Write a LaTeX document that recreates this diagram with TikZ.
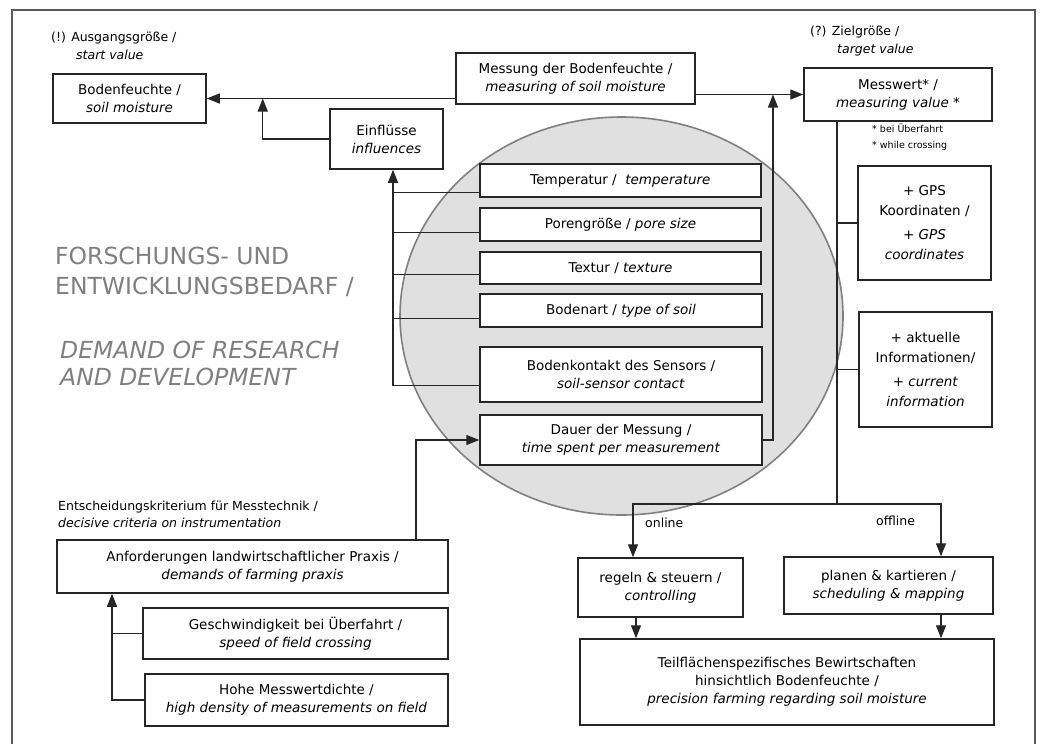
\documentclass[tikz,border=0pt]{standalone}
\usepackage{fontspec}
\setmainfont{DejaVu Sans}
\usetikzlibrary{arrows.meta,calc}
\begin{document}
\begin{tikzpicture}[x=1pt,y=-1pt,
  box/.style={draw=black!85, line width=1.5pt, fill=white, inner sep=0pt, align=center,
    font=\fontsize{13.5}{18}\selectfont, text=black},
  conn/.style={line width=1.4pt, draw=black!85},
  arr/.style={conn, -{Triangle[length=13pt,width=10pt]}},
  lbl/.style={inner sep=0pt, align=left, anchor=west, font=\fontsize{12.5}{18}\selectfont, text=black},
  small/.style={inner sep=0pt, align=left, anchor=west, font=\fontsize{9.5}{16}\selectfont, text=black},
  title/.style={inner sep=0pt, align=left, anchor=west, font=\fontsize{23.5}{30}\selectfont, text=black!50},
  frame/.style={draw=black!65, line width=2pt},
  bubble/.style={draw=black!50, line width=1.6pt, fill=black!12}
]
\useasboundingbox (0,0) rectangle (1044,744);
\fill[white] (0,0) rectangle (1044,744);
\draw[frame] (12,744) -- (12,10) -- (1035,10) -- (1035,744);

% ellipse
\draw[bubble] (621.5,316) ellipse [x radius=221.5, y radius=199];

% free labels
\node[lbl] (start) at (51,46) {(!) Ausgangsgröße /\\\hspace*{25pt}\textit{start value}};
\node[lbl] (target) at (810,41) {(?) Zielgröße /\\\hspace*{27pt}\textit{target value}};
\node[small] (cross) at (872,137) {* bei Überfahrt\\* while crossing};
\node[title] (tde) at (55,272) {FORSCHUNGS- UND\\ENTWICKLUNGSBEDARF /};
\node[title, font=\fontsize{23.5}{27}\selectfont\itshape] (ten) at (60,363.5) {DEMAND OF RESEARCH\\AND DEVELOPMENT};
\node[lbl, font=\fontsize{12.5}{17}\selectfont] (crit) at (58,514.5) {Entscheidungskriterium für Messtechnik /\\\textit{decisive criteria on instrumentation}};
\node[lbl] (online) at (645,523) {online};
\node[lbl] (offline) at (876,521) {offline};

% boxes
\node[box, minimum width=153pt, minimum height=49pt] (bf) at (129.5,98.5) {Bodenfeuchte /\\\textit{soil moisture}};
\node[box, minimum width=239pt, minimum height=51pt] (mess) at (575.5,78.5) {Messung der Bodenfeuchte /\\\textit{measuring of soil moisture}};
\node[box, minimum width=188pt, minimum height=53pt] (mw) at (898,94.5) {Messwert* /\\\textit{measuring value *}};
\node[box, minimum width=113pt, minimum height=60pt] (ein) at (386.5,139) {Einflüsse\\\textit{influences}};

\node[box, minimum width=281pt, minimum height=33pt] (temp) at (620.5,180.5) {Temperatur /\ \ \textit{temperature}};
\node[box, minimum width=281pt, minimum height=33pt] (pore) at (620.5,224.5) {Porengröße /\ \textit{pore size}};
\node[box, minimum width=281pt, minimum height=32pt] (tex) at (620.5,268) {Textur /\ \textit{texture}};
\node[box, minimum width=282pt, minimum height=33pt] (bart) at (621,310.5) {Bodenart /\ \textit{type of soil}};
\node[box, minimum width=282pt, minimum height=55pt] (kont) at (621,374.5) {Bodenkontakt des Sensors /\\\textit{soil-sensor contact}};
\node[box, minimum width=282pt, minimum height=50pt] (dauer) at (621,440) {Dauer der Messung /\\\textit{time spent per measurement}};

\node[box, minimum width=133pt, minimum height=114pt, font=\fontsize{13.5}{20}\selectfont] (gps) at (924.5,223) {+ GPS\\Koordinaten /\\[4pt]\textit{+ GPS}\\\textit{coordinates}};
\node[box, minimum width=133pt, minimum height=115pt, font=\fontsize{13.5}{20}\selectfont] (akt) at (925.5,369.5) {+ aktuelle\\Informationen/\\[4pt]\textit{+ current}\\\textit{information}};

\node[box, minimum width=391pt, minimum height=53pt] (anf) at (252.5,566.5) {Anforderungen landwirtschaftlicher Praxis /\\\textit{demands of farming praxis}};
\node[box, minimum width=305pt, minimum height=51pt] (gesch) at (295.5,633.5) {Geschwindigkeit bei Überfahrt /\\\textit{speed of field crossing}};
\node[box, minimum width=303pt, minimum height=52pt] (hohe) at (296.5,700) {Hohe Messwertdichte /\\\textit{high density of measurements on field}};

\node[box, minimum width=165pt, minimum height=59pt] (reg) at (660.5,587.5) {regeln \& steuern /\\\textit{controlling}};
\node[box, minimum width=209pt, minimum height=57pt] (plan) at (888.5,585.5) {planen \& kartieren /\\\textit{scheduling \& mapping}};
\node[box, minimum width=414pt, minimum height=86pt] (teil) at (787,682) {Teilflächenspezifisches Bewirtschaften\\hinsichtlich Bodenfeuchte /\\\textit{precision farming regarding soil moisture}};

% helper coordinates
\coordinate (j1) at ($(bf.east)+(56,0)$);
\coordinate (bus) at (393,0);
\coordinate (x416) at (416,0);
\coordinate (x773) at (773,0);
\coordinate (x112) at (112,0);
\coordinate (split) at (837,504);

% connectors top
\draw[arr] (mess.west |- bf.east) -- (bf.east);
\draw[arr] (ein.west) -| (j1);
\draw[arr] (mess.east |- mw.west) -- (mw.west);

% influence bus
\draw[arr] ($(kont.south west)+(0,-17)$) -| (ein.south -| bus);
\draw[conn] ($(temp.south west)+(0,-5)$) -- ($(temp.south west -| bus)+(0,-5)$);
\draw[conn] ($(pore.south west)+(0,-9)$) -- ($(pore.south west -| bus)+(0,-9)$);
\draw[conn] ($(tex.south west)+(0,-10)$) -- ($(tex.south west -| bus)+(0,-10)$);
\draw[conn] ($(bart.south west)+(0,-9)$) -- ($(bart.south west -| bus)+(0,-9)$);

% duration
\draw[arr] (dauer.east) -| (mw.west -| x773);
\draw[arr] (anf.north -| x416) |- (dauer.west);

% right side
\draw[conn] (mw.south -| split) -- (split);
\draw[conn] (gps.west) -- (gps.west -| split);
\draw[conn] (akt.west) -- (akt.west -| split);
\draw[arr] (split) -| ($(reg.north)+(-27.5,0)$);
\draw[arr] (split) -| ($(plan.north)+(52.5,0)$);
\draw[arr] ($(reg.south)+(-24.5,0)$) -- ($(reg.south |- teil.north)+(-24.5,0)$);
\draw[arr] ($(plan.south)+(52.5,0)$) -- ($(plan.south |- teil.north)+(52.5,0)$);

% bottom left
\draw[arr] (hohe.west) -| (anf.south -| x112);
\draw[conn] (gesch.west) -- (gesch.west -| x112);
\end{tikzpicture}
\end{document}
